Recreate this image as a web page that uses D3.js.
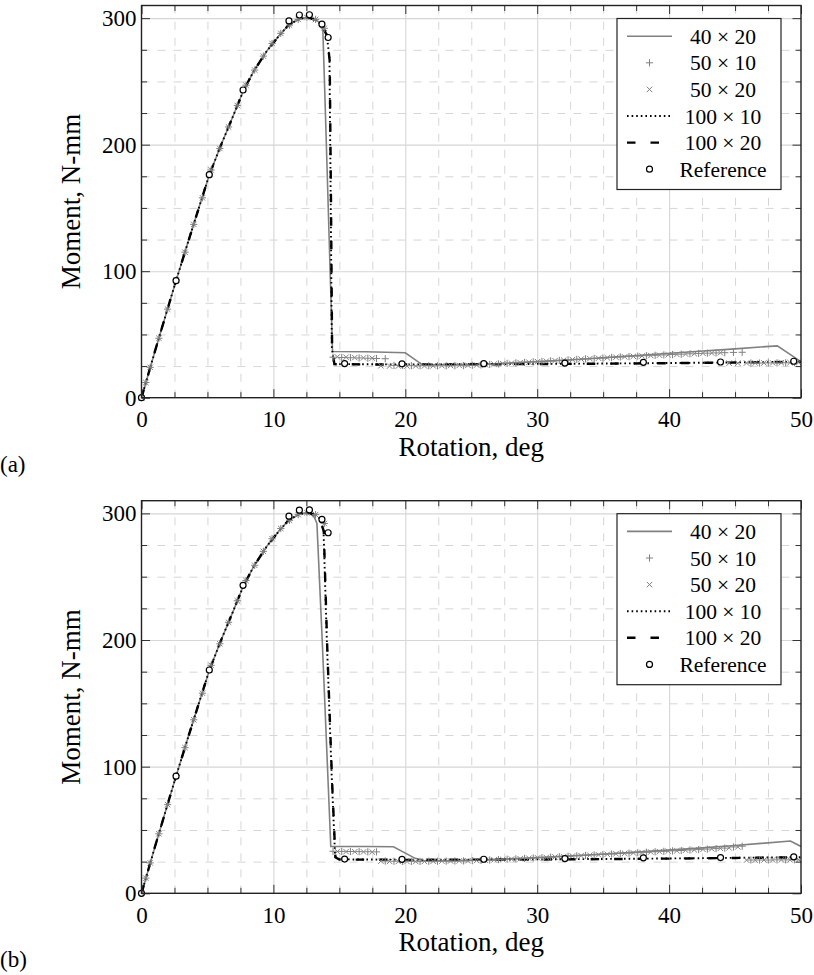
<!DOCTYPE html>
<html><head><meta charset="utf-8">
<script src="https://cdn.jsdelivr.net/npm/d3@7"></script>
<style>
body{margin:0;background:#fff;}
svg{display:block;font-family:"Liberation Serif","Times New Roman",serif;}
</style></head><body>
<svg id="chart" width="814" height="975"></svg>
<script>
// ---------- data ----------
const xTicks = [0, 10, 20, 30, 40, 50];
const xMinor = [2.5, 5, 7.5, 12.5, 15, 17.5, 22.5, 25, 27.5, 32.5, 35, 37.5, 42.5, 45, 47.5];
const yTicks = [0, 100, 200, 300];
const yMinor = [25, 50, 75, 125, 150, 175, 225, 250, 275];
const xLabel = "Rotation, deg";
const yLabel = "Moment, N-mm";
const legendLabels = ["40 × 20", "50 × 10", "50 × 20", "100 × 10", "100 × 20", "Reference"];

// reference solution (same on both panels)
const refTheta  = [0, 2.62, 5.14, 7.70, 11.18, 11.97, 12.73, 13.68, 14.15, 15.4, 19.75, 25.95, 32.1, 38.05, 43.9, 49.45];
const refMoment = [0, 92.5, 176.3, 243.2, 297.8, 302.5, 302.7, 295.2, 284.7, 27.0, 26.8, 26.9, 27.4, 28.0, 28.2, 28.8];

// shared elastic rise of the line series
const riseTheta  = [0, 1, 2, 2.62, 3.5, 4.5, 5.14, 6, 7, 7.7, 8.5, 9.5, 10.5, 11.2, 12, 12.7];
const riseMoment = [0, 36, 71, 92.5, 122, 155, 176, 199, 224, 242, 258, 274, 287, 295, 299.5, 300.5];

// shared rise of the marker series
const mRiseTheta  = [0, 0.33, 0.66, 1.32, 1.98, 2.64, 3.30, 3.96, 4.62, 5.28, 5.94, 6.60, 7.26, 7.92, 8.58, 9.24, 9.90, 10.56, 11.22, 11.88, 12.54, 13.20, 13.86];
const mRiseMoment = [0, 12, 24, 47, 70, 93, 115, 137, 158, 180, 197, 214, 231, 247, 259, 270, 280, 288, 294.5, 299, 300.5, 299, 292];

// marker positions after the drop
const postThetaA = [14.52, 15.18, 15.84, 16.5, 17.16, 17.82, 18.48, 19.14, 19.8, 20.46, 21.12, 21.78, 22.44, 23.1, 23.76, 24.42, 25.08, 25.74, 26.4, 27.06, 27.72, 28.38, 29.04, 29.7, 30.36, 31.02, 31.68, 32.34, 33.0, 33.66, 34.32, 34.98, 35.64, 36.3, 36.96, 37.62, 38.28, 38.94, 39.6, 40.26, 40.92, 41.58, 42.24, 42.9, 43.56, 44.22, 44.88, 45.54, 46.2, 46.86, 47.52, 48.18, 48.84, 49.5];
const postThetaB = [14.85, 15.51, 16.17, 16.83, 17.49, 18.15, 18.81, 19.47, 20.13, 20.79, 21.45, 22.11, 22.77, 23.43, 24.09, 24.75, 25.41, 26.07, 26.73, 27.39, 28.05, 28.71, 29.37, 30.03, 30.69, 31.35, 32.01, 32.67, 33.33, 33.99, 34.65, 35.31, 35.97, 36.63, 37.29, 37.95, 38.61, 39.27, 39.93, 40.59, 41.25, 41.91, 42.57, 43.23, 43.89, 44.55, 45.21, 45.87, 46.53, 47.19, 47.85, 48.51, 49.17, 49.83];

// ---- panel (a) ----
const a40x20Theta  = [13.3, 13.6, 13.75, 13.9, 14.05, 14.3, 14.42, 14.48, 17, 20, 21.3, 24, 27, 30, 33, 36, 39, 42, 45, 48.2, 50];
const a40x20Moment = [298, 296, 290, 240, 188, 100, 60, 36.5, 36.3, 35.5, 26.0, 26.2, 27.0, 28.5, 30.2, 32.3, 34.3, 36.5, 38.6, 41.0, 28.5];
const a100x10Theta  = [13.3, 13.7, 14.05, 14.25, 14.35, 14.43, 14.6, 17, 20, 25, 30, 35, 40, 45, 50];
const a100x10Moment = [298, 294, 287, 268, 150, 40, 26.6, 26.4, 26.3, 26.4, 26.7, 27.0, 27.4, 27.9, 28.4];
const a100x20Theta  = [13.3, 13.7, 14.07, 14.27, 14.37, 14.45, 14.62, 17, 20, 25, 30, 35, 40, 45, 50];
const a100x20Moment = [298, 294, 286, 266, 150, 40, 26.5, 26.3, 26.3, 26.4, 26.6, 26.9, 27.3, 27.8, 28.3];
const a50x10Post = [32.0, 31.8, 31.6, 31.4, 31.2, 31.0, 30.8, 25.5, 25.4, 25.3, 25.3, 25.2, 25.2, 25.2, 25.3, 25.4, 25.6, 25.9, 26.3, 26.7, 27.1, 27.5, 27.9, 28.3, 28.7, 29.1, 29.5, 29.9, 30.3, 30.7, 31.0, 31.4, 31.8, 32.2, 32.5, 32.9, 33.2, 33.5, 33.8, 34.1, 34.4, 34.7, 35.0, 35.2, 35.4, 35.6, 35.8, 35.9, 27.4, 27.4, 27.5, 27.5, 27.6, 27.7];
const a50x20Post = [32.3, 32.0, 31.7, 31.5, 31.3, 25.2, 25.0, 25.0, 25.0, 25.1, 25.1, 25.2, 25.3, 25.4, 25.5, 25.6, 25.8, 26.1, 26.5, 26.9, 27.3, 27.7, 28.1, 28.5, 28.9, 29.3, 29.7, 30.1, 30.5, 30.9, 31.2, 31.6, 32.0, 32.3, 32.7, 33.0, 33.3, 33.6, 33.9, 34.2, 34.5, 34.8, 35.1, 35.3, 35.5, 27.3, 27.3, 27.4, 27.4, 27.5, 27.5, 27.6, 27.7, 27.8];

// ---- panel (b) ----
const b40x20Theta  = [13.1, 13.3, 13.7, 14.0, 14.35, 17, 19.1, 20.75, 21.5, 24, 27, 30, 33, 36, 39, 42, 45, 49.2, 50];
const b40x20Moment = [297, 292, 200, 125, 37, 36.9, 36.8, 27.6, 25.5, 25.8, 26.8, 28.2, 29.8, 31.6, 33.5, 35.5, 37.7, 41.3, 37];
const b100x10Theta  = [13.3, 13.5, 13.8, 14.05, 14.43, 14.68, 15, 20, 25, 30, 35, 40, 45, 50];
const b100x10Moment = [298, 296, 287, 200, 90, 29, 26.8, 26.5, 26.6, 26.8, 27.1, 27.5, 28.0, 28.5];
const b100x20Theta  = [13.3, 13.5, 13.82, 14.07, 14.45, 14.7, 15, 20, 25, 30, 35, 40, 45, 50];
const b100x20Moment = [298, 296, 286, 198, 88, 28.5, 26.7, 26.4, 26.5, 26.7, 27.0, 27.4, 27.9, 28.4];
const b50x10Post = [33.2, 33.1, 33.0, 32.9, 32.8, 32.7, 25.5, 25.3, 25.2, 25.2, 25.2, 25.3, 25.3, 25.4, 25.5, 25.6, 25.8, 26.0, 26.3, 26.6, 26.9, 27.2, 27.5, 27.9, 28.2, 28.5, 28.9, 29.2, 29.6, 29.9, 30.3, 30.6, 31.0, 31.4, 31.7, 32.1, 32.4, 32.8, 33.1, 33.5, 33.8, 34.2, 34.5, 34.9, 35.3, 35.7, 36.6, 37.2, 26.3, 26.3, 26.3, 26.4, 26.4, 26.5];
const b50x20Post = [33.0, 32.9, 32.8, 32.7, 32.6, 25.4, 25.2, 25.1, 25.1, 25.1, 25.2, 25.3, 25.4, 25.5, 25.6, 25.7, 25.9, 26.1, 26.4, 26.7, 27.0, 27.3, 27.7, 28.0, 28.3, 28.7, 29.0, 29.4, 29.7, 30.1, 30.4, 30.8, 31.2, 31.5, 31.9, 32.2, 32.6, 32.9, 33.3, 33.6, 34.0, 34.3, 34.7, 35.1, 35.5, 35.9, 36.6, 26.2, 26.2, 26.3, 26.3, 26.4, 26.4, 26.5];

// ---------- drawing ----------
const svg = d3.select("#chart");
const GRAY = "#808080";
const FONT = '"Liberation Serif", "Times New Roman", serif';
const zip = (xs, ys) => xs.map((v, i) => [v, ys[i]]);

const panels = [
  { id: "a", tag: "(a)", top: 5.5, bottom: 397.7,
    l40: zip(riseTheta.concat(a40x20Theta), riseMoment.concat(a40x20Moment)),
    l10: zip(riseTheta.concat(a100x10Theta), riseMoment.concat(a100x10Moment)),
    l20: zip(riseTheta.concat(a100x20Theta), riseMoment.concat(a100x20Moment)),
    p10: zip(mRiseTheta.concat(postThetaA), mRiseMoment.concat(a50x10Post)),
    p20: zip(mRiseTheta.concat(postThetaB), mRiseMoment.concat(a50x20Post)) },
  { id: "b", tag: "(b)", top: 500.7, bottom: 893.3,
    l40: zip(riseTheta.concat(b40x20Theta), riseMoment.concat(b40x20Moment)),
    l10: zip(riseTheta.concat(b100x10Theta), riseMoment.concat(b100x10Moment)),
    l20: zip(riseTheta.concat(b100x20Theta), riseMoment.concat(b100x20Moment)),
    p10: zip(mRiseTheta.concat(postThetaA), mRiseMoment.concat(b50x10Post)),
    p20: zip(mRiseTheta.concat(postThetaB), mRiseMoment.concat(b50x20Post)) }
];
const refPts = zip(refTheta, refMoment);

const plusPath = "M-3.6,0H3.6M0,-3.6V3.6";
const crossPath = "M-2.7,-2.7L2.7,2.7M-2.7,2.7L2.7,-2.7";

const LEFT = 141.5, RIGHT = 801;

panels.forEach(p => {
  const x = d3.scaleLinear().domain([0, 50]).range([LEFT, RIGHT]);
  const y = d3.scaleLinear().domain([0, 310]).range([p.bottom, p.top]);
  const H = p.bottom - p.top, W = RIGHT - LEFT;
  const g = svg.append("g");

  svg.append("clipPath").attr("id", "clip" + p.id)
    .append("rect").attr("x", LEFT).attr("y", p.top).attr("width", W).attr("height", H);

  const clean = s => s.select(".domain").remove();
  // minor grid (dashed)
  g.append("g").attr("transform", `translate(0,${p.bottom})`)
    .call(d3.axisBottom(x).tickValues(xMinor).tickSize(-H).tickFormat(""))
    .call(clean)
    .call(s => s.selectAll("line").attr("stroke", "#d6d6d6").attr("stroke-width", 1).attr("stroke-dasharray", "8,8"));
  g.append("g").attr("transform", `translate(${LEFT},0)`)
    .call(d3.axisLeft(y).tickValues(yMinor).tickSize(-W).tickFormat(""))
    .call(clean)
    .call(s => s.selectAll("line").attr("stroke", "#d6d6d6").attr("stroke-width", 1).attr("stroke-dasharray", "8,8"));
  // major grid (solid)
  g.append("g").attr("transform", `translate(0,${p.bottom})`)
    .call(d3.axisBottom(x).tickValues([10, 20, 30, 40]).tickSize(-H).tickFormat(""))
    .call(clean)
    .call(s => s.selectAll("line").attr("stroke", "#d6d6d6").attr("stroke-width", 1.1));
  g.append("g").attr("transform", `translate(${LEFT},0)`)
    .call(d3.axisLeft(y).tickValues([100, 200, 300]).tickSize(-W).tickFormat(""))
    .call(clean)
    .call(s => s.selectAll("line").attr("stroke", "#d6d6d6").attr("stroke-width", 1.1));

  // data
  const line = d3.line().x(d => x(d[0])).y(d => y(d[1]));
  const dg = g.append("g").attr("clip-path", `url(#clip${p.id})`);
  dg.append("path").datum(p.l40).attr("d", line).attr("fill", "none")
    .attr("stroke", GRAY).attr("stroke-width", 1.6);
  g.append("g").selectAll("path").data(p.p10).join("path")
    .attr("transform", d => `translate(${x(d[0])},${y(d[1])})`)
    .attr("d", plusPath).attr("stroke", GRAY).attr("stroke-width", 1).attr("fill", "none");
  g.append("g").selectAll("path").data(p.p20).join("path")
    .attr("transform", d => `translate(${x(d[0])},${y(d[1])})`)
    .attr("d", crossPath).attr("stroke", GRAY).attr("stroke-width", 1).attr("fill", "none");
  dg.append("path").datum(p.l10).attr("d", line).attr("fill", "none")
    .attr("stroke", "#000").attr("stroke-width", 1.9).attr("stroke-dasharray", "1.6,3");
  dg.append("path").datum(p.l20).attr("d", line).attr("fill", "none")
    .attr("stroke", "#000").attr("stroke-width", 2.4).attr("stroke-dasharray", "8.5,15");
  g.append("g").selectAll("circle").data(refPts).join("circle")
    .attr("cx", d => x(d[0])).attr("cy", d => y(d[1])).attr("r", 3)
    .attr("fill", "#fff").attr("stroke", "#000").attr("stroke-width", 1.2);

  // axes (ticks inward on all four sides)
  const styleAxis = s => {
    s.select(".domain").remove();
    s.selectAll("line").attr("stroke", "#333").attr("stroke-width", 1);
    s.selectAll("text").attr("font-size", 23).attr("fill", "#000").attr("font-family", FONT);
  };
  g.append("g").attr("transform", `translate(0,${p.bottom})`)
    .call(d3.axisBottom(x).tickValues(xTicks).tickSize(-8.5).tickPadding(13).tickFormat(d3.format("d"))).call(styleAxis);
  g.append("g").attr("transform", `translate(0,${p.bottom})`)
    .call(d3.axisBottom(x).tickValues(xMinor).tickSize(-5.5).tickFormat("")).call(styleAxis);
  g.append("g").attr("transform", `translate(0,${p.top})`)
    .call(d3.axisTop(x).tickValues(xTicks).tickSize(-8.5).tickFormat("")).call(styleAxis);
  g.append("g").attr("transform", `translate(0,${p.top})`)
    .call(d3.axisTop(x).tickValues(xMinor).tickSize(-5.5).tickFormat("")).call(styleAxis);
  g.append("g").attr("transform", `translate(${LEFT},0)`)
    .call(d3.axisLeft(y).tickValues(yTicks).tickSize(-8.5).tickPadding(5).tickFormat(d3.format("d"))).call(styleAxis);
  g.append("g").attr("transform", `translate(${LEFT},0)`)
    .call(d3.axisLeft(y).tickValues(yMinor).tickSize(-5.5).tickFormat("")).call(styleAxis);
  g.append("g").attr("transform", `translate(${RIGHT},0)`)
    .call(d3.axisRight(y).tickValues(yTicks).tickSize(-8.5).tickFormat("")).call(styleAxis);
  g.append("g").attr("transform", `translate(${RIGHT},0)`)
    .call(d3.axisRight(y).tickValues(yMinor).tickSize(-5.5).tickFormat("")).call(styleAxis);

  // frame
  g.append("rect").attr("x", LEFT).attr("y", p.top).attr("width", W).attr("height", H)
    .attr("fill", "none").attr("stroke", "#222").attr("stroke-width", 1.4);

  // axis titles
  g.append("text").attr("x", (LEFT + RIGHT) / 2).attr("y", p.bottom + 58)
    .attr("text-anchor", "middle").attr("font-size", 27).text(xLabel);
  g.append("text").attr("transform", `translate(80,${(p.top + p.bottom) / 2}) rotate(-90)`)
    .attr("text-anchor", "middle").attr("font-size", 27).text(yLabel);
  g.append("text").attr("x", 0).attr("y", p.bottom + 74).attr("font-size", 23).text(p.tag);

  // legend
  const lx = 617, ly = p.top + 13, lw = 164, lh = 171;
  const lg = g.append("g");
  lg.append("rect").attr("x", lx).attr("y", ly).attr("width", lw).attr("height", lh)
    .attr("fill", "#fff").attr("stroke", "#222").attr("stroke-width", 1.2);
  legendLabels.forEach((lab, i) => {
    const ry = ly + 17.7 + i * 26.6;
    const x1 = lx + 10, x2 = lx + 55, xm = (x1 + x2) / 2;
    if (i === 0) lg.append("line").attr("x1", x1).attr("x2", x2).attr("y1", ry).attr("y2", ry)
      .attr("stroke", GRAY).attr("stroke-width", 1.6);
    if (i === 1) lg.append("path").attr("transform", `translate(${xm},${ry})`).attr("d", plusPath)
      .attr("stroke", GRAY).attr("stroke-width", 1);
    if (i === 2) lg.append("path").attr("transform", `translate(${xm},${ry})`).attr("d", crossPath)
      .attr("stroke", GRAY).attr("stroke-width", 1);
    if (i === 3) lg.append("line").attr("x1", x1).attr("x2", x2).attr("y1", ry).attr("y2", ry)
      .attr("stroke", "#000").attr("stroke-width", 1.9).attr("stroke-dasharray", "1.6,3");
    if (i === 4) lg.append("line").attr("x1", x1).attr("x2", x2).attr("y1", ry).attr("y2", ry)
      .attr("stroke", "#000").attr("stroke-width", 2.4).attr("stroke-dasharray", "8.5,15");
    if (i === 5) lg.append("circle").attr("cx", xm).attr("cy", ry).attr("r", 3)
      .attr("fill", "#fff").attr("stroke", "#000").attr("stroke-width", 1.2);
    lg.append("text").attr("x", lx + 106).attr("y", ry).attr("dy", "0.35em")
      .attr("text-anchor", "middle").attr("font-size", 21.5).text(lab);
  });
});
</script></body></html>
